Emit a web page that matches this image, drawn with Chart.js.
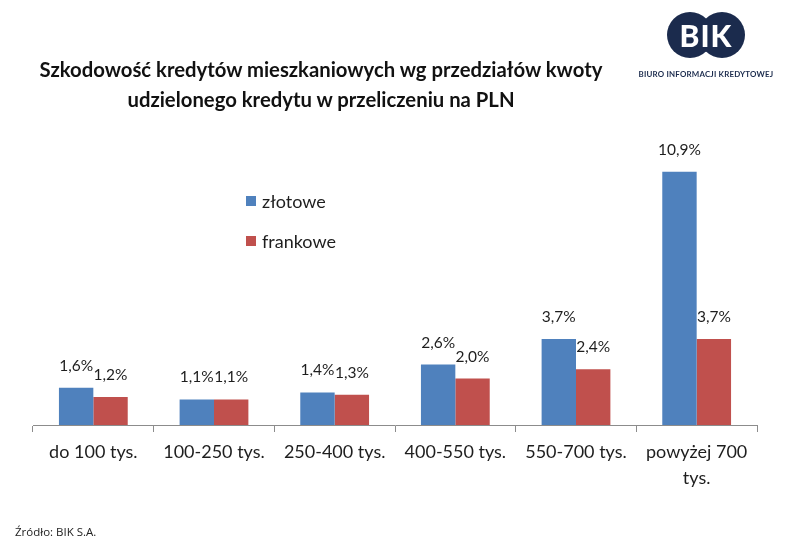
<!DOCTYPE html>
<html>
<head>
<meta charset="utf-8">
<script src="https://cdn.jsdelivr.net/npm/chart.js@4/dist/chart.umd.min.js"></script>
<style>
  html, body { margin: 0; padding: 0; background: #fff; }
  #wrap { position: relative; width: 786px; height: 547px; overflow: hidden; font-family: Lato, 'Open Sans', sans-serif; color: #1e1e1e; }
  #chart { position: absolute; left: 0; top: 0; }
  .title { position: absolute; left: 0; width: 642px; text-align: center; font-weight: bold; font-size: 20.3px; line-height: 30px; top: 54px; color: #111; }
  .logo { position: absolute; left: 640px; top: 12px; width: 140px; height: 70px; }
  .logo .c { position: absolute; top: 0; width: 46px; height: 46px; border-radius: 50%; background: #1b2b4d; }
  .logo .bik { position: absolute; left: 0; width: 132px; top: 5px; text-align: center; color: #fff; font-weight: 900; font-size: 30px; line-height: 36px; letter-spacing: 1px; }
  .logo .sub { position: absolute; left: -4px; width: 140px; top: 57px; text-align: center; color: #1b2b4d; font-weight: bold; font-size: 7.9px; letter-spacing: 0.2px; white-space: nowrap; }
  #legend { position: absolute; left: 246px; top: 181px; }
  #legend .item { height: 40px; display: flex; align-items: center; font-size: 18px; }
  #legend .box { width: 10px; height: 10px; margin-right: 6px; }
  .source { position: absolute; left: 15px; top: 524px; font-size: 11.5px; font-family: 'Open Sans', sans-serif; color: #222; }
</style>
</head>
<body>
<div id="wrap">
  <canvas id="chart" width="786" height="547"></canvas>
  <div class="title">Szkodowość kredytów mieszkaniowych wg przedziałów kwoty<br>udzielonego kredytu w przeliczeniu na PLN</div>
  <div class="logo">
    <div class="c" style="left:27px"></div>
    <div class="c" style="left:59px"></div>
    <div class="bik">BIK</div>
    <div class="sub">BIURO INFORMACJI KREDYTOWEJ</div>
  </div>
  <div id="legend"></div>
  <div class="source">Źródło: BIK S.A.</div>
</div>
<script>
const categories = ['do 100 tys.', '100-250 tys.', '250-400 tys.', '400-550 tys.', '550-700 tys.', ['powyżej 700', 'tys.']];
const zlotowe = [1.6, 1.1, 1.4, 2.6, 3.7, 10.9];
const frankowe = [1.2, 1.1, 1.3, 2.0, 2.4, 3.7];

const textColor = '#1e1e1e';

// value labels above each bar, Polish decimal comma
const valueLabels = {
  id: 'valueLabels',
  afterDatasetsDraw(chart) {
    const ctx = chart.ctx;
    ctx.save();
    ctx.font = "15.5px Lato";
    ctx.fillStyle = textColor;
    ctx.textAlign = 'center';
    ctx.textBaseline = 'middle';
    chart.data.datasets.forEach((ds, i) => {
      chart.getDatasetMeta(i).data.forEach((bar, j) => {
        ctx.fillText(ds.data[j].toFixed(1).replace('.', ',') + '%', bar.x, bar.y - 22);
      });
    });
    ctx.restore();
  }
};

const chart = new Chart(document.getElementById('chart'), {
  type: 'bar',
  data: {
    labels: categories,
    datasets: [
      { label: 'złotowe', data: zlotowe, backgroundColor: '#4f81bd' },
      { label: 'frankowe', data: frankowe, backgroundColor: '#c0504d' },
    ]
  },
  options: {
    responsive: false,
    animation: false,
    layout: { padding: { top: 123, left: 33, right: 29, bottom: 0 } },
    categoryPercentage: 0.57,
    barPercentage: 1.0,
    plugins: { legend: { display: false }, tooltip: { enabled: false } },
    scales: {
      x: {
        grid: { drawOnChartArea: false, color: '#8c8c8c', tickLength: 7, offset: true },
        border: { color: '#8c8c8c', width: 1 },
        ticks: { color: textColor, padding: 8, font: { size: 18, family: 'Lato', lineHeight: 1.4 }, maxRotation: 0, autoSkip: false },
        afterFit: (scale) => { scale.height = 122; }
      },
      y: { display: false, min: 0, max: 13 }
    }
  },
  plugins: [valueLabels]
});

// html legend from datasets
const legend = document.getElementById('legend');
chart.data.datasets.forEach(ds => {
  const item = document.createElement('div');
  item.className = 'item';
  item.innerHTML = '<span class="box" style="background:' + ds.backgroundColor + '"></span>' + ds.label;
  legend.appendChild(item);
});
</script>
</body>
</html>
